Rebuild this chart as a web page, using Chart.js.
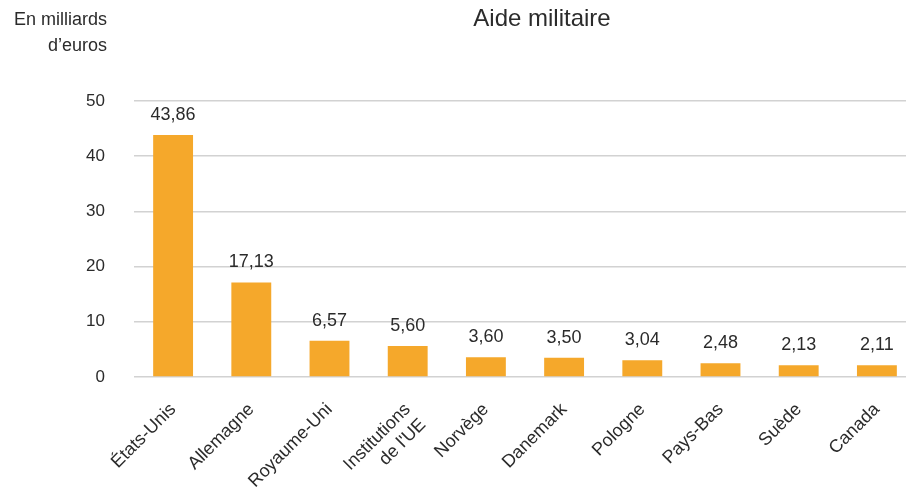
<!DOCTYPE html>
<html>
<head>
<meta charset="utf-8">
<script src="https://cdn.jsdelivr.net/npm/chart.js@4"></script>
<style>
  html, body { margin: 0; padding: 0; background: #fff; overflow: hidden; }
  #wrap { width: 916px; height: 488px; }
</style>
</head>
<body>
<div id="wrap"><canvas id="chart"></canvas></div>
<script>
'use strict';

const countries = ['États-Unis', 'Allemagne', 'Royaume-Uni', ['Institutions', "de l'UE"], 'Norvège',
  'Danemark', 'Pologne', 'Pays-Bas', 'Suède', 'Canada'];
const aid = [43.86, 17.13, 6.57, 5.60, 3.60, 3.50, 3.04, 2.48, 2.13, 2.11];
const yTicks = [0, 10, 20, 30, 40, 50];
const chartTitle = 'Aide militaire';
const unitLines = ['En milliards', 'd’euros'];

const textColor = '#2b2b2b';
const fontFamily = '"Liberation Sans", Arial, sans-serif';

const fmt = function(v) {
  return v.toFixed(2).replace('.', ',');
};

// values above bars + title + unit text
const labelsPlugin = {
  id: 'labels',
  afterDatasetsDraw(chart) {
    const ctx = chart.ctx;
    const meta = chart.getDatasetMeta(0);
    ctx.save();
    ctx.fillStyle = textColor;
    ctx.font = '18px ' + fontFamily;
    ctx.textAlign = 'center';
    ctx.textBaseline = 'bottom';
    meta.data.forEach(function(bar, i) {
      ctx.fillText(fmt(aid[i]), bar.x, bar.y - 11);
    });

    ctx.font = '24px ' + fontFamily;
    ctx.textBaseline = 'middle';
    ctx.fillText(chartTitle, 542, 19);

    ctx.font = '18px ' + fontFamily;
    ctx.textAlign = 'right';
    ctx.fillText(unitLines[0], 107, 20);
    ctx.fillText(unitLines[1], 107, 46);
    ctx.restore();
  }
};

const myChart = new Chart(document.getElementById('chart').getContext('2d'), {
  type: 'bar',
  data: {
    labels: countries,
    datasets: [{
      data: aid,
      backgroundColor: '#F5A82B',
      barPercentage: 0.51,
      categoryPercentage: 1
    }]
  },
  options: {
    responsive: true,
    maintainAspectRatio: false,
    animation: false,
    layout: { padding: { top: 101, right: 0, bottom: 0, left: 0 } },
    plugins: {
      legend: { display: false },
      title: { display: false },
      tooltip: { enabled: false }
    },
    scales: {
      x: {
        grid: { display: false, drawTicks: false },
        border: { display: false },
        afterFit: function(scale) { scale.height = 111; },
        ticks: {
          color: textColor,
          font: { family: fontFamily, size: 18 },
          maxRotation: 45,
          minRotation: 45,
          autoSkip: false,
          padding: 22
        }
      },
      y: {
        min: 0,
        max: 50,
        afterFit: function(scale) { scale.width = 134; },
        afterBuildTicks: function(scale) {
          scale.ticks = yTicks.map(function(v) { return { value: v }; });
        },
        grid: { color: '#d2d2d2', lineWidth: 1.5, drawTicks: false },
        border: { display: false },
        ticks: {
          color: textColor,
          font: { family: fontFamily, size: 17 },
          padding: 29
        }
      }
    }
  },
  plugins: [labelsPlugin]
});
</script>
</body>
</html>
